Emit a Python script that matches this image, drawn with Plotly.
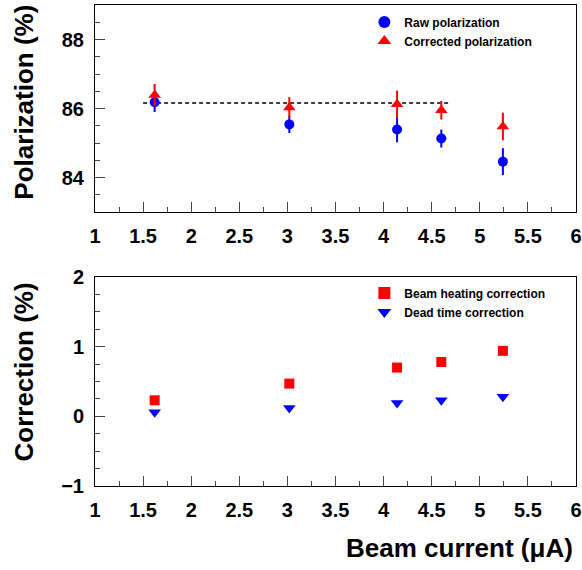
import plotly.graph_objects as go
from plotly.subplots import make_subplots

# Beam current (uA)
current = [1.62, 3.02, 4.14, 4.60, 5.24]

# Polarization (%)
raw_pol = [86.18, 85.54, 85.39, 85.13, 84.46]
raw_err = [0.28, 0.25, 0.37, 0.26, 0.39]
corr_pol = [86.39, 86.03, 86.12, 85.95, 85.48]
corr_err = [0.32, 0.30, 0.40, 0.27, 0.40]

# Fit line
fit_x = [1.5, 4.7]
fit_y = [86.16, 86.16]

# Corrections (%)
heating_corr = [0.23, 0.47, 0.70, 0.78, 0.94]
deadtime_corr = [0.06, 0.12, 0.19, 0.23, 0.28]

FONT = "Liberation Sans"
BLUE = "#0000ff"
RED = "#ff0000"

fig = make_subplots(rows=2, cols=1, vertical_spacing=0.1)

fig.add_trace(go.Scatter(x=fit_x, y=fit_y, mode="lines", showlegend=False,
                         line=dict(color="black", width=1.5, dash="4px,3px")), row=1, col=1)
fig.add_trace(go.Scatter(x=current, y=raw_pol, mode="markers", name="Raw polarization",
                         marker=dict(symbol="circle", size=10, color=BLUE),
                         error_y=dict(type="data", array=raw_err, color=BLUE, thickness=2, width=0),
                         legend="legend"), row=1, col=1)
fig.add_trace(go.Scatter(x=current, y=corr_pol, mode="markers", name="Corrected polarization",
                         marker=dict(symbol="triangle-up", size=11, color=RED),
                         error_y=dict(type="data", array=corr_err, color=RED, thickness=2, width=0),
                         legend="legend"), row=1, col=1)

fig.add_trace(go.Scatter(x=current, y=heating_corr, mode="markers", name="Beam heating correction",
                         marker=dict(symbol="square", size=10, color=RED),
                         legend="legend2"), row=2, col=1)
fig.add_trace(go.Scatter(x=current, y=deadtime_corr, mode="markers", name="Dead time correction",
                         marker=dict(symbol="triangle-down", size=11, color=BLUE),
                         legend="legend2"), row=2, col=1)

tickfont = dict(family=FONT, size=20, color="black", weight="bold")
titlefont = dict(family=FONT, size=26, color="black", weight="bold")

common_x = dict(range=[1, 6], dtick=0.5, tick0=1, ticks="inside", ticklen=10, tickwidth=1,
                minor=dict(dtick=0.25, ticks="inside", ticklen=5, tickwidth=1),
                showline=True, linecolor="black", linewidth=1, mirror=True,
                showgrid=False, zeroline=False, tickfont=tickfont, automargin=False,
                ticklabelstandoff=6)
fig.update_xaxes(**common_x)
fig.update_xaxes(domain=[0, 1])

common_y = dict(ticks="inside", ticklen=10, tickwidth=1,
                showline=True, linecolor="black", linewidth=1, mirror=True,
                showgrid=False, zeroline=False, tickfont=tickfont, automargin=False,
                ticklabelstandoff=6)
fig.update_yaxes(row=1, col=1, range=[83, 89], dtick=2, tick0=84,
                 minor=dict(dtick=0.5, ticks="inside", ticklen=5),
                 domain=[0.5696, 1.0], **common_y)
fig.update_yaxes(row=2, col=1, range=[-1, 2], dtick=1, tick0=0,
                 minor=dict(dtick=0.25, ticks="inside", ticklen=5),
                 domain=[0.0, 0.4345], **common_y)

fig.add_annotation(text="Polarization (%)", xref="paper", yref="paper", x=-0.1476, y=0.797,
                   xanchor="center", yanchor="middle", textangle=-90, showarrow=False,
                   font=titlefont)
fig.add_annotation(text="Correction (%)", xref="paper", yref="paper", x=-0.1476, y=0.236,
                   xanchor="center", yanchor="middle", textangle=-90, showarrow=False,
                   font=titlefont)
fig.add_annotation(text="Beam current (μA)", xref="paper", yref="paper", x=0.998, y=-0.129,
                   xanchor="right", yanchor="middle", showarrow=False, font=titlefont)

legfont = dict(family=FONT, size=12, color="black", weight="bold")
fig.update_layout(
    width=582, height=570,
    margin=dict(l=95, r=6, t=5, b=84, autoexpand=False),
    paper_bgcolor="white", plot_bgcolor="white",
    legend=dict(x=0.56, y=0.995, xanchor="left", yanchor="top", font=legfont,
                bgcolor="rgba(0,0,0,0)", tracegroupgap=0, itemsizing="constant"),
    legend2=dict(x=0.56, y=0.4314, xanchor="left", yanchor="top", font=legfont,
                 bgcolor="rgba(0,0,0,0)", tracegroupgap=0, itemsizing="constant"),
)

fig.write_html("out.html", config={"displayModeBar": False},
               post_script="document.body.style.margin='0px';")
